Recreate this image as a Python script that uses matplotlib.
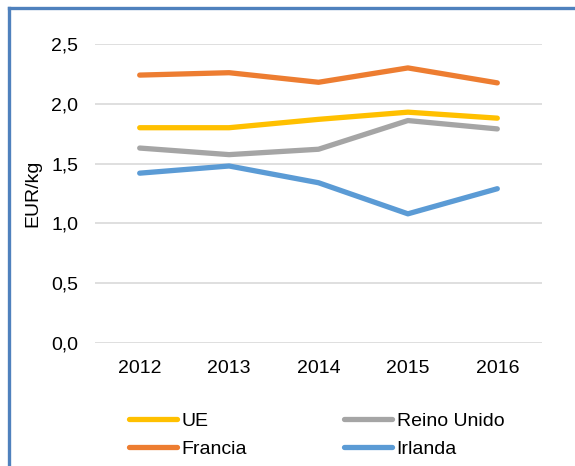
import numpy as np
import matplotlib
matplotlib.use("Agg")
import matplotlib.pyplot as plt
from matplotlib.lines import Line2D

plt.rcParams['font.family'] = ['Liberation Sans', 'DejaVu Sans']

# ───── data ─────
years = ["2012", "2013", "2014", "2015", "2016"]
ue = [1.80, 1.80, 1.87, 1.93, 1.88]
reino_unido = [1.63, 1.575, 1.62, 1.86, 1.79]
francia = [2.24, 2.26, 2.18, 2.30, 2.175]
irlanda = [1.42, 1.48, 1.34, 1.08, 1.29]

W, H = 575, 466
fig = plt.figure(figsize=(W/100, H/100), dpi=100)
ax = fig.add_axes([95/W, 1-343/H, (542-95)/W, (343-44)/H])

x = np.arange(len(years))
kw = dict(lw=3.8, solid_capstyle="round", solid_joinstyle="round")
l_ue, = ax.plot(x, ue, color="#FFC000", label="UE", **kw)
l_ru, = ax.plot(x, reino_unido, color="#A5A5A5", label="Reino Unido", **kw)
l_fr, = ax.plot(x, francia, color="#ED7D31", label="Francia", **kw)
l_ir, = ax.plot(x, irlanda, color="#5B9BD5", label="Irlanda", **kw)

ax.set_xlim(-0.5, len(years)-0.5)
ax.set_ylim(0, 2.5)
ax.set_xticks(x, years)
yt = np.arange(0, 2.51, 0.5)
ax.set_yticks(yt, [f"{v:.1f}".replace(".", ",") for v in yt])
ax.tick_params(length=0, labelsize=14, pad=12)
ax.grid(axis="y", color="#D9D9D9", lw=1.2)
ax.set_axisbelow(True)
for s in ax.spines.values():
    s.set_visible(False)

fig.text(33/W, 1-193/H, "EUR/kg", rotation=90, fontsize=14,
         ha="center", va="center")

# legend: UE / Reino Unido on first row, Francia / Irlanda on second
fig.legend([l_ue, l_fr, l_ru, l_ir], ["UE", "Francia", "Reino Unido", "Irlanda"],
           ncol=2, frameon=False, fontsize=14, loc="upper left",
           bbox_to_anchor=(129/W, 1-412/H), borderpad=0, borderaxespad=0,
           handlelength=2.45, handletextpad=0.25, labelspacing=0.55,
           columnspacing=5.0)

# blue frame (top + left)
fc = "#4F81BD"
fig.add_artist(Line2D([9/W, 9/W], [0, 1-8/H], color=fc, lw=2.4))
fig.add_artist(Line2D([9/W, 1], [1-8/H, 1-8/H], color=fc, lw=2.4))

fig.savefig("out.png", dpi=100)
